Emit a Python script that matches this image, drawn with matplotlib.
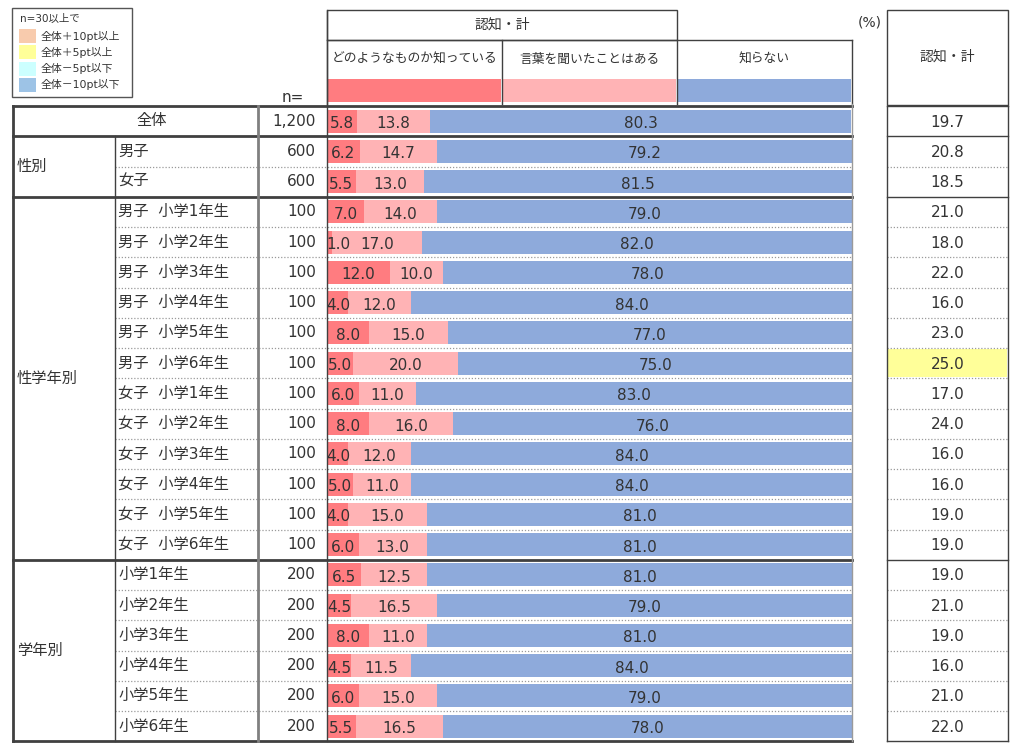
import matplotlib
matplotlib.use("Agg")
import matplotlib.pyplot as plt
from matplotlib.patches import Rectangle

# DejaVu for latin/digits (wide, Verdana-like), Noto CJK for Japanese
plt.rcParams['font.family'] = ['DejaVu Sans', 'Noto Sans CJK JP']

# ---- data ----
groups = ['性別', '性学年別', '学年別']
group_sizes = [2, 12, 6]
row_labels = ['全体', '男子', '女子',
              '男子  小学1年生', '男子  小学2年生', '男子  小学3年生', '男子  小学4年生',
              '男子  小学5年生', '男子  小学6年生',
              '女子  小学1年生', '女子  小学2年生', '女子  小学3年生', '女子  小学4年生',
              '女子  小学5年生', '女子  小学6年生',
              '小学1年生', '小学2年生', '小学3年生', '小学4年生', '小学5年生', '小学6年生']
n_values = [1200, 600, 600] + [100] * 12 + [200] * 6
know_well = [5.8, 6.2, 5.5, 7.0, 1.0, 12.0, 4.0, 8.0, 5.0, 6.0, 8.0, 4.0, 5.0, 4.0, 6.0,
             6.5, 4.5, 8.0, 4.5, 6.0, 5.5]
heard_only = [13.8, 14.7, 13.0, 14.0, 17.0, 10.0, 12.0, 15.0, 20.0, 11.0, 16.0, 12.0, 11.0,
              15.0, 13.0, 12.5, 16.5, 11.0, 11.5, 15.0, 16.5]
not_know = [80.3, 79.2, 81.5, 79.0, 82.0, 78.0, 84.0, 77.0, 75.0, 83.0, 76.0, 84.0, 84.0,
            81.0, 81.0, 81.0, 79.0, 81.0, 84.0, 79.0, 78.0]
aware_total = [19.7, 20.8, 18.5, 21.0, 18.0, 22.0, 16.0, 23.0, 25.0, 17.0, 24.0, 16.0, 16.0,
               19.0, 19.0, 19.0, 21.0, 19.0, 16.0, 21.0, 22.0]
series_names = ['どのようなものか知っている', '言葉を聞いたことはある', '知らない']
legend_labels = ['全体＋10pt以上', '全体＋5pt以上', '全体－5pt以下', '全体－10pt以下']

# ---- style ----
c_well, c_heard, c_not = '#FF7C80', '#FFB3B5', '#8EAADB'
legend_colors = ['#F8CBAD', '#FFFF99', '#CCFFFF', '#9DC3E6']
txt = '#333333'
W, H = 1018, 751
top, row_h = 106, 30.25
nrows = len(row_labels)
bx_l, bx_r = 327, 852

fig = plt.figure(figsize=(W / 100, H / 100), dpi=100)
fig.patch.set_facecolor('white')

# bar axes (0-100 %)
bottom_px = top + nrows * row_h
bx = fig.add_axes([bx_l / W, 1 - bottom_px / H, (bx_r - bx_l) / W, nrows * row_h / H])
ypos = list(range(nrows))
left2 = [a for a in know_well]
left3 = [a + b for a, b in zip(know_well, heard_only)]
bx.barh(ypos, know_well, height=0.76, color=c_well, zorder=2)
bx.barh(ypos, heard_only, left=left2, height=0.76, color=c_heard, zorder=2)
bx.barh(ypos, not_know, left=left3, height=0.76, color=c_not, zorder=2)
bx.set_xlim(0, 100)
bx.set_ylim(nrows - 0.5, -0.5)
bx.axis('off')
for i in ypos:
    a, b, c = know_well[i], heard_only[i], not_know[i]
    bx.text(max(a / 2, 2.2), i + 0.08, f'{a:.1f}', ha='center', va='center', fontsize=11, color=txt)
    bx.text(max(a + b / 2, a + 4.4), i + 0.08, f'{b:.1f}', ha='center', va='center', fontsize=11, color=txt)
    bx.text(a + b + c / 2, i + 0.08, f'{c:.1f}', ha='center', va='center', fontsize=11, color=txt)

# overlay axes in pixel coordinates for the table frame
ax = fig.add_axes([0, 0, 1, 1])
ax.set_xlim(0, W)
ax.set_ylim(H, 0)
ax.axis('off')
ax.patch.set_visible(False)

def hline(y, x0, x1, **kw):
    ax.plot([x0, x1], [y, y], **kw)

def vline(x, y0, y1, **kw):
    ax.plot([x, x], [y0, y1], **kw)

solid = dict(color='#404040', lw=1.0)
thick = dict(color='#404040', lw=2.0)
dotted = dict(color='#9a9a9a', lw=0.9, ls=(0, (1, 1.5)))

# legend box
ax.add_patch(Rectangle((12, 8), 120, 89, fill=False, ec='#555555', lw=1))
ax.text(20, 19, 'n=30以上で', fontsize=7.5, color=txt, va='center')
for k, (lab, col) in enumerate(zip(legend_labels, legend_colors)):
    yy = 36 + k * 16.3
    ax.add_patch(Rectangle((19, yy - 7), 17, 14, fc=col, ec='none'))
    ax.text(41, yy, lab, fontsize=7.8, color=txt, va='center')

# header
ax.text(293, 97, 'n=', fontsize=11, color=txt, ha='center', va='center')
ax.text(870, 22, '(%)', fontsize=10, color=txt, ha='center', va='center')
ax.add_patch(Rectangle((327, 10), 350, 30, fill=False, ec='#404040', lw=1))
ax.text(502, 25, '認知・計', fontsize=10, color=txt, ha='center', va='center')
hline(40, 327, 852, **solid)
for x in (327, 502, 677, 852):
    vline(x, 40, 104, **solid)
cells = [(327, 502), (502, 677), (677, 852)]
for (x0, x1), name, col in zip(cells, series_names, [c_well, c_heard, c_not]):
    ax.text((x0 + x1) / 2, 59, name, fontsize=9.2, color=txt, ha='center', va='center')
    ax.add_patch(Rectangle((x0 + 1, 79), x1 - x0 - 1.5, 23, fc=col, ec='none'))

# right column header
ax.add_patch(Rectangle((887, 10), 121, 95, fill=False, ec='#404040', lw=1))
ax.text(947.5, 57, '認知・計', fontsize=10, color=txt, ha='center', va='center')

# row boundaries
starts = [1]
for s in group_sizes[:-1]:
    starts.append(starts[-1] + s)
group_start_rows = set(starts)
for k in range(nrows + 1):
    y = top + k * row_h
    if k == 0 or k == nrows or k in group_start_rows:
        hline(y, 13, 852, **thick)
        hline(y, 887, 1008, **solid)
    else:
        hline(y, 115, 852, **dotted)
        hline(y, 887, 1008, **dotted)

# vertical lines
vline(13, top, bottom_px, **thick)
vline(115, top + row_h, bottom_px, **solid)
vline(258, top, bottom_px, color='#808080', lw=2.0)
vline(327, 10, bottom_px, **solid)
vline(852, 104, bottom_px, color='#9a9a9a', lw=1.0)
vline(887, top, bottom_px, **solid)
vline(1008, top, bottom_px, **solid)

# row texts
base = aware_total[0]
for i in range(nrows):
    yc = top + (i + 0.5) * row_h
    if i == 0:
        ax.text(152, yc - 1, row_labels[i], fontsize=11, color=txt, ha='center', va='center')
    else:
        ax.text(118, yc, row_labels[i], fontsize=11, color=txt, ha='left', va='center')
    ax.text(316, yc, f'{n_values[i]:,}', fontsize=11, color=txt, ha='right', va='center')
    diff = aware_total[i] - base
    fill = None
    if n_values[i] >= 30 and i > 0:
        if diff >= 10:
            fill = legend_colors[0]
        elif diff >= 5:
            fill = legend_colors[1]
        elif diff <= -10:
            fill = legend_colors[3]
        elif diff <= -5:
            fill = legend_colors[2]
    if fill:
        ax.add_patch(Rectangle((888, top + i * row_h + 1), 119, row_h - 2, fc=fill, ec='none', zorder=0))
    ax.text(947.5, yc + 1, f'{aware_total[i]:.1f}', fontsize=11, color=txt, ha='center', va='center')

# group labels
for g, s, n in zip(groups, starts, group_sizes):
    yc = top + (s + n / 2) * row_h
    ax.text(17, yc, g, fontsize=11, color=txt, ha='left', va='center')

fig.savefig('out.png', dpi=100)
